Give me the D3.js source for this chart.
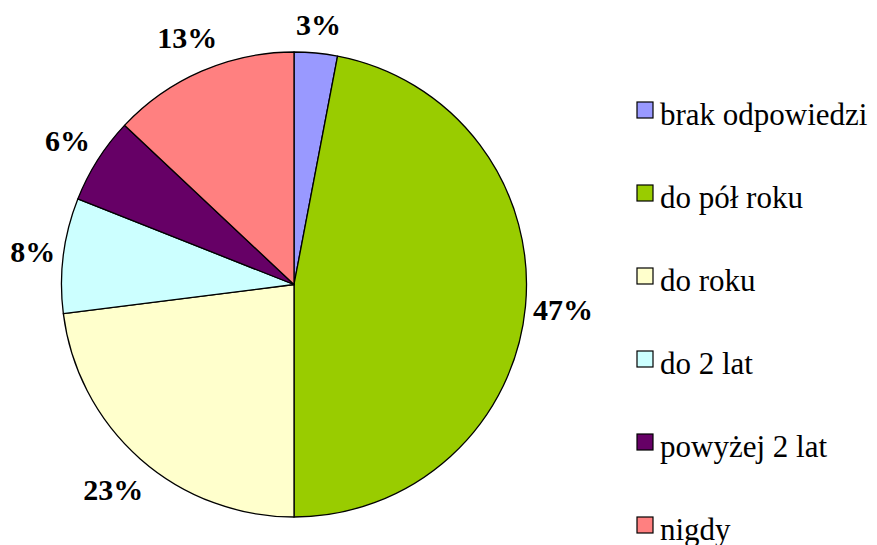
<!DOCTYPE html>
<html>
<head>
<meta charset="utf-8">
<script src="https://cdn.jsdelivr.net/npm/d3@7"></script>
<style>
  html, body { margin: 0; padding: 0; background: #fff; }
  svg { display: block; }
  .ser { font-family: "Liberation Serif", "Times New Roman", Tinos, "DejaVu Serif", serif; }
</style>
</head>
<body>
<script>
const categories = ["brak odpowiedzi", "do pół roku", "do roku", "do 2 lat", "powyżej 2 lat", "nigdy"];
const values = [3, 47, 23, 8, 6, 13];
const labels = ["3%", "47%", "23%", "8%", "6%", "13%"];
const colors = ["#9999FF", "#99CC00", "#FFFFCC", "#CCFFFF", "#660066", "#FF8080"];

const W = 877, H = 545;
const cx = 294, cy = 284.5, R = 232.5;

const svg = d3.select("body").append("svg").attr("width", W).attr("height", H);

const pie = d3.pie().sort(null).value(d => d.v);
const data = pie(categories.map((c, i) => ({ c, v: values[i], l: labels[i], col: colors[i] })));
const arc = d3.arc().innerRadius(0).outerRadius(R);

const g = svg.append("g").attr("transform", `translate(${cx},${cy})`);
g.selectAll("path").data(data).join("path")
  .attr("d", arc)
  .attr("fill", d => d.data.col)
  .attr("stroke", "#000")
  .attr("stroke-width", 1.3)
  .attr("stroke-linejoin", "round");

const lbl = g.selectAll("text.lbl").data(data).join("text")
  .attr("class", "lbl ser")
  .attr("font-weight", "bold")
  .attr("font-size", 30)
  .attr("text-anchor", "middle")
  .text(d => d.data.l);

lbl.each(function(d) {
  const w = this.getComputedTextLength();
  const a = (d.startAngle + d.endAngle) / 2;
  const s = Math.sin(a), c = Math.cos(a);
  const dist = R + 6 + Math.abs(s) * w / 2 + Math.abs(c) * 20;
  const x = s * dist, y = -c * dist;
  d3.select(this).attr("x", x).attr("y", y + 10);
});

const legX = 637, legY0 = 125, legStep = 83;
const leg = svg.append("g");
categories.forEach((c, i) => {
  const y = legY0 + i * legStep;
  leg.append("rect")
    .attr("x", legX).attr("y", y - 23)
    .attr("width", 16).attr("height", 16)
    .attr("fill", colors[i]).attr("stroke", "#000").attr("stroke-width", 1.2);
  leg.append("text")
    .attr("class", "ser")
    .attr("x", legX + 23).attr("y", y)
    .attr("font-size", 31)
    .attr("fill", "#000")
    .text(c);
});
</script>
</body>
</html>
